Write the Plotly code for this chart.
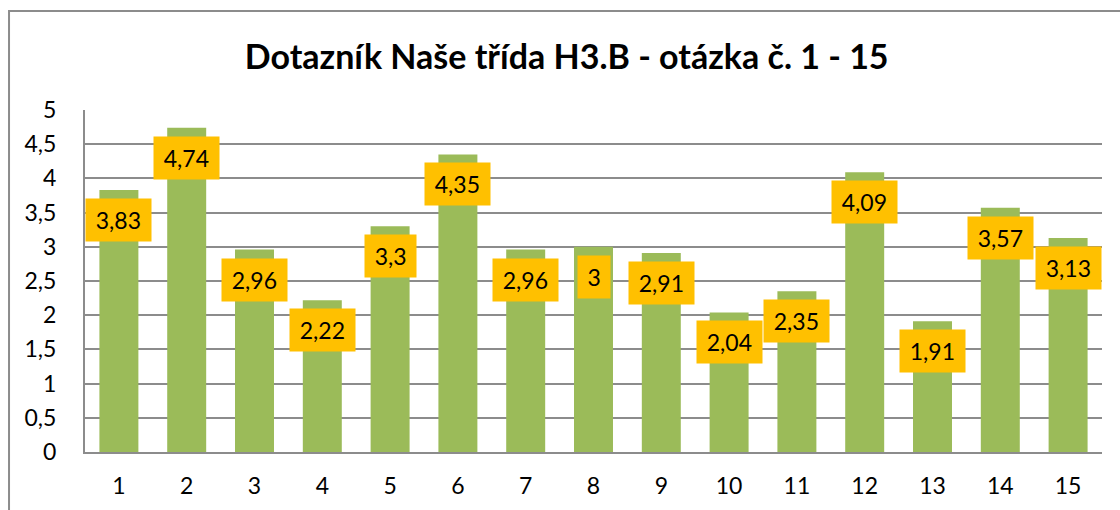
import plotly.graph_objects as go

categories = [str(i) for i in range(1, 16)]
values = [3.83, 4.74, 2.96, 2.22, 3.3, 4.35, 2.96, 3.0, 2.91, 2.04, 2.35, 4.09, 1.91, 3.57, 3.13]
y_ticks = [0, 0.5, 1, 1.5, 2, 2.5, 3, 3.5, 4, 4.5, 5]
y_tick_labels = ["0", "0,5", "1", "1,5", "2", "2,5", "3", "3,5", "4", "4,5", "5"]
title_text = "Dotazník Naše třída H3.B - otázka č. 1 - 15"

BAR = "#9BBB59"
LABEL_BG = "#FFC000"
GRID = "#8C8C8C"
FONT = "Lato, 'Open Sans', sans-serif"
LABEL_SIZE = 23


def fmt(v):
    return f"{v:g}".replace(".", ",")


def label_width(s, size=LABEL_SIZE):
    w = 0
    for ch in s:
        w += 0.25 * size if ch == "," else 0.58 * size
    return w + 5


fig = go.Figure()
fig.add_trace(go.Bar(
    x=categories, y=values,
    marker=dict(color=BAR, line=dict(width=0)),
    width=0.575,
    hoverinfo="skip",
))

annotations = []
for i, v in enumerate(values):
    t = fmt(v)
    annotations.append(dict(
        x=i, y=v, xref="x", yref="y",
        text=t, showarrow=False,
        yanchor="top", yshift=-8,
        bgcolor=LABEL_BG, borderpad=7,
        width=label_width(t),
        font=dict(family=FONT, size=LABEL_SIZE, color="#000000"),
    ))

fig.update_layout(
    width=1120, height=510,
    paper_bgcolor="white", plot_bgcolor="white",
    margin=dict(l=85, r=18, t=110, b=58, autoexpand=False),
    showlegend=False,
    bargap=0.425,
    title=dict(
        text=title_text,
        font=dict(family=FONT, size=34, color="#000000", weight="bold"),
        x=0.506, xref="container", xanchor="center",
        y=1 - 57 / 510, yref="container", yanchor="middle",
    ),
    annotations=annotations,
    xaxis=dict(
        type="category",
        range=[-0.5, 14.5],
        automargin=False,
        showgrid=False,
        showline=True, linecolor=GRID, linewidth=2,
        ticks="",
        ticklabelstandoff=12,
        tickfont=dict(family=FONT, size=LABEL_SIZE, color="#000000"),
    ),
    yaxis=dict(
        range=[0, 5],
        automargin=False,
        tickvals=y_ticks, ticktext=y_tick_labels,
        showgrid=True, gridcolor=GRID, gridwidth=2,
        showline=True, linecolor=GRID, linewidth=2,
        zeroline=False,
        ticks="",
        ticklabelstandoff=22,
        tickfont=dict(family=FONT, size=LABEL_SIZE, color="#000000"),
    ),
    shapes=[dict(
        type="rect", xref="paper", yref="paper",
        x0=-0.0747, x1=1.06, y0=-0.3, y1=1.2895,
        line=dict(color="#8C8C8C", width=2), fillcolor="rgba(0,0,0,0)",
        layer="below",
    )],
)

fig.write_html(
    "out.html",
    config={"displayModeBar": False},
    post_script="document.body.style.margin='0';document.body.style.overflow='hidden';",
)
